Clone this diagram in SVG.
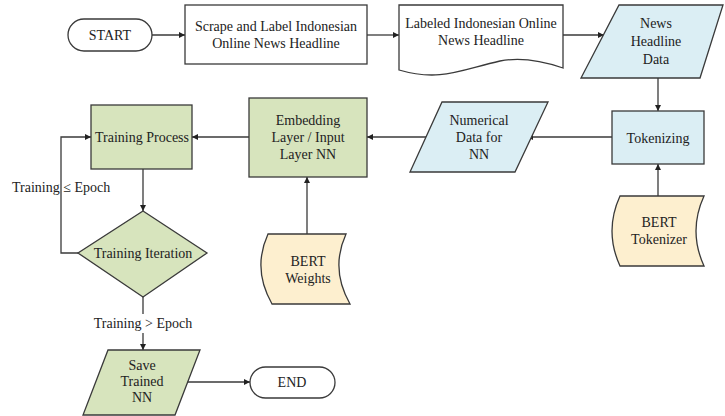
<svg xmlns="http://www.w3.org/2000/svg" width="725" height="416" viewBox="0 0 725 416">
<defs>
<style>
.s{stroke:#3a3a3a;stroke-width:1.3;}
.w{fill:#ffffff;}
.b{fill:#dbeef4;}
.g{fill:#d7e4bd;}
.y{fill:#fdefcf;}
.c{fill:none;stroke:#3a3a3a;stroke-width:1.3;marker-end:url(#ah);}
text{font-family:"Liberation Serif","Times New Roman",serif;font-size:14px;fill:#222;text-anchor:middle;}
</style>
<marker id="ah" viewBox="0 0 10 10" refX="10" refY="5" markerWidth="6" markerHeight="6" markerUnits="userSpaceOnUse" orient="auto">
<path d="M0,0 L10,5 L0,10 Z" fill="#222"/>
</marker>
</defs>
<rect width="725" height="416" fill="#ffffff"/>
<g id="connectors">
<path class="c" d="M152,35 H185"/>
<path class="c" d="M367,35 H399"/>
<path class="c" d="M563,35 H604"/>
<path class="c" d="M658,78 V111"/>
<path class="c" d="M658,196 V164"/>
<path class="c" d="M612,137 H527"/>
<path class="c" d="M427,137 H367"/>
<path class="c" d="M307,234 V177"/>
<path class="c" d="M249,137 H192"/>
<path class="c" d="M143,169 V211"/>
<path class="c" d="M78,253 H61 V137 H91"/>
<path class="c" d="M143,297 V350"/>
<path class="c" d="M186,382 H250"/>
</g>
<g id="start"><rect class="s w" x="68" y="19" width="84" height="32" rx="16"/><text x="110" y="40">START</text></g>
<g id="scrape"><rect class="s w" x="185" y="5" width="182" height="59"/><text x="276" y="31">Scrape and Label Indonesian</text><text x="276" y="48">Online News Headline</text></g>
<g id="labeled"><path class="s w" d="M399,5 H563 V68 C540,60 520,57 500,61 C460,70 440,82 399,70 Z"/><text x="481" y="28">Labeled Indonesian Online</text><text x="481" y="45">News Headline</text></g>
<g id="newsdata"><path class="s b" d="M619,5 H723 L700,78 H581 Z"/><text x="656" y="28">News</text><text x="656" y="46">Headline</text><text x="656" y="64">Data</text></g>
<g id="tokenizing"><rect class="s b" x="612" y="111" width="92" height="53"/><text x="658" y="143">Tokenizing</text></g>
<g id="berttok"><path class="s y" d="M620,196 H704 Q688,231 704,266 H620 Q604,231 620,196 Z"/><text x="659" y="227">BERT</text><text x="659" y="244">Tokenizer</text></g>
<g id="numerical"><path class="s b" d="M442,102 H548 L515,172 H410 Z"/><text x="479" y="125">Numerical</text><text x="479" y="142">Data for</text><text x="479" y="159">NN</text></g>
<g id="embedding"><rect class="s g" x="249" y="98" width="118" height="79"/><text x="308" y="125">Embedding</text><text x="308" y="142">Layer / Input</text><text x="308" y="159">Layer NN</text></g>
<g id="bertw"><path class="s y" d="M268,234 H346 Q330,269 350,304 H272 Q252,269 268,234 Z"/><text x="308" y="266">BERT</text><text x="308" y="283">Weights</text></g>
<g id="trainproc"><rect class="s g" x="91" y="105" width="101" height="64"/><text x="142" y="142">Training Process</text></g>
<g id="trainiter"><path class="s g" d="M143,211 L207,253 L143,297 L78,253 Z"/><text x="143" y="258">Training Iteration</text></g>
<g id="lbl1"><text x="12" y="192" style="text-anchor:start">Training ≤ Epoch</text></g>
<g id="lbl2"><rect x="92" y="314" width="102" height="19" fill="#ffffff"/><text x="143" y="328">Training &gt; Epoch</text></g>
<g id="save"><path class="s g" d="M108,350 H200 L175,415 H83 Z"/><text x="142" y="370">Save</text><text x="142" y="386">Trained</text><text x="142" y="402">NN</text></g>
<g id="end"><rect class="s w" x="250" y="367" width="85" height="31" rx="15.5"/><text x="292" y="387">END</text></g>
</svg>
